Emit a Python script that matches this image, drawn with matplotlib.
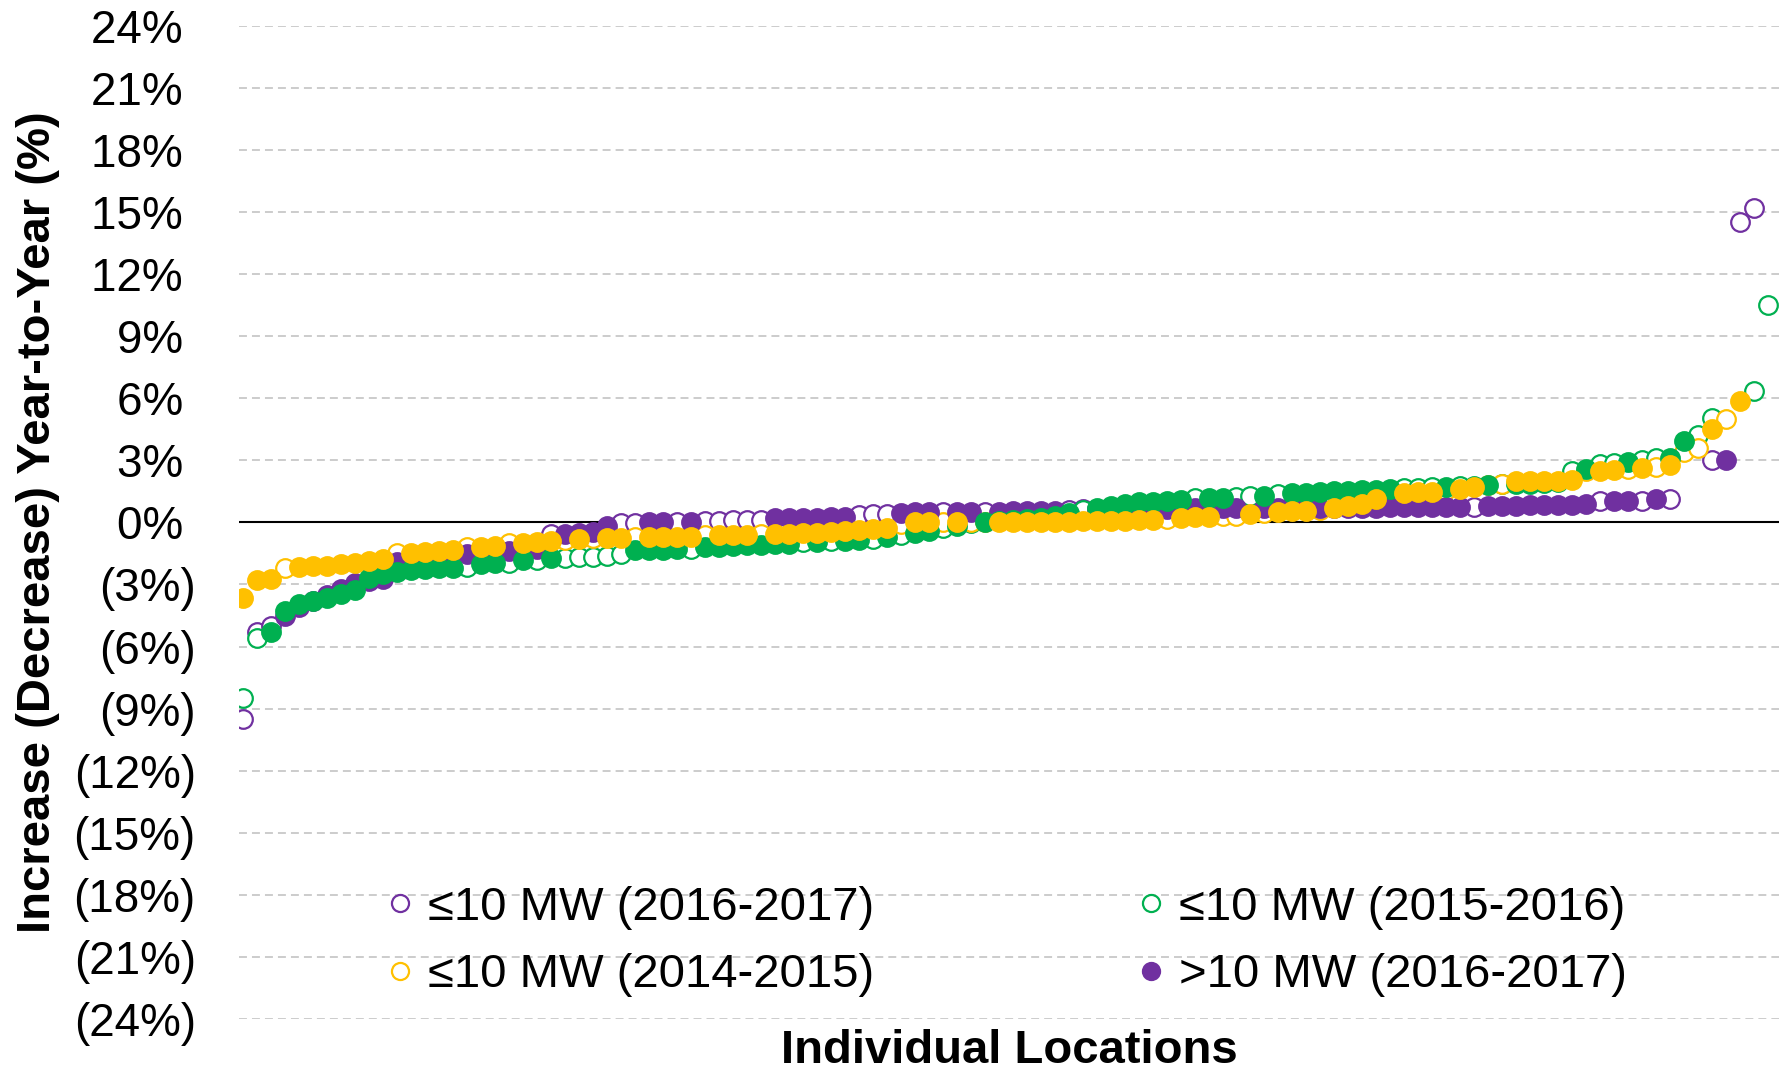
import numpy as np
import matplotlib
matplotlib.use("Agg")
from matplotlib import pyplot as plt
from matplotlib.lines import Line2D

plt.rcParams['font.family'] = ['Liberation Sans', 'DejaVu Sans']

PURPLE = '#7030A0'
GREEN = '#00B050'
YELLOW = '#FFC000'

# year-to-year change (%) per location, sorted; None = no point drawn
p16_vals = [-9.5, -5.3, -5.0, -4.5, -4.1, -3.8, -3.5, -3.2, -2.95, -2.85,
            -2.75, -1.9, -1.8, -1.75, -1.7, -1.6, -1.55, -1.5, -1.45, -1.4,
            -1.35, -1.3, -0.55, -0.55, -0.5, -0.45, -0.15, -0.05, -0.05, 0.0,
            0.0, 0.0, 0.0, 0.05, 0.05, 0.1, 0.1, 0.1, 0.2, 0.2,
            0.2, 0.2, 0.25, 0.25, 0.35, 0.4, 0.4, 0.45, 0.5, 0.5,
            0.5, 0.5, 0.5, 0.5, 0.5, 0.55, 0.55, 0.55, 0.55, 0.6,
            0.65, 0.65, 0.65, 0.65, 0.65, 0.65, 0.65, 0.65, 0.7, 0.7,
            0.7, 0.7, 0.7, 0.7, 0.7, 0.7, 0.7, 0.7, 0.7, 0.7,
            0.7, 0.7, 0.75, 0.75, 0.75, 0.75, 0.75, 0.75, 0.75, 0.8,
            0.8, 0.8, 0.85, 0.85, 0.85, 0.85, 0.9, 1.05, 1.05, 1.05,
            1.05, 1.15, 1.15, None, None, 3.0, 3.0, 14.5, 15.2]
# 1 = >10 MW (filled marker), 0 = <=10 MW (open marker)
p16_big = [0, 0, 0, 1, 1, 1, 1, 1, 1, 1,
           1, 1, 1, 1, 1, 1, 1, 1, 1, 1,
           1, 1, 0, 1, 1, 1, 1, 0, 0, 1,
           1, 0, 1, 0, 0, 0, 0, 0, 1, 1,
           1, 1, 1, 1, 0, 0, 0, 1, 1, 1,
           0, 1, 1, 0, 1, 1, 1, 1, 1, 0,
           0, 1, 1, 1, 1, 1, 1, 0, 1, 1,
           1, 1, 0, 1, 1, 1, 1, 1, 1, 1,
           1, 1, 1, 1, 1, 1, 1, 1, 0, 1,
           1, 1, 1, 1, 1, 1, 1, 0, 1, 1,
           0, 1, 0, 0, 0, 0, 1, 0, 0]

g15_vals = [-8.5, -5.6, -5.3, -4.3, -3.95, -3.8, -3.65, -3.45, -3.25, -2.7,
            -2.5, -2.4, -2.3, -2.25, -2.2, -2.2, -2.15, -2.0, -1.95, -1.95,
            -1.8, -1.8, -1.7, -1.7, -1.65, -1.65, -1.6, -1.55, -1.35, -1.35,
            -1.35, -1.3, -1.3, -1.2, -1.2, -1.15, -1.1, -1.1, -1.05, -1.05,
            -0.95, -0.95, -0.9, -0.9, -0.85, -0.8, -0.7, -0.6, -0.5, -0.4,
            -0.25, -0.15, -0.05, 0.0, 0.05, 0.1, 0.15, 0.2, 0.3, 0.45,
            0.6, 0.7, 0.8, 0.9, 1.0, 1.0, 1.05, 1.1, 1.2, 1.2,
            1.2, 1.25, 1.3, 1.3, 1.35, 1.4, 1.4, 1.45, 1.5, 1.5,
            1.55, 1.55, 1.6, 1.65, 1.65, 1.7, 1.7, 1.75, 1.75, 1.8,
            1.85, 1.85, 1.85, 1.9, 1.95, 2.5, 2.6, 2.8, 2.85, 2.9,
            3.0, 3.1, 3.1, 3.95, 4.2, 5.05, None, None, 6.35, 10.5]
g15_big = [0, 0, 1, 1, 1, 1, 1, 1, 1, 1,
           1, 1, 1, 1, 1, 1, 0, 1, 1, 0,
           1, 0, 1, 0, 0, 0, 0, 0, 1, 1,
           1, 1, 0, 1, 1, 1, 1, 1, 1, 1,
           0, 1, 0, 1, 1, 0, 1, 0, 1, 1,
           0, 1, 0, 1, 1, 1, 1, 1, 1, 1,
           0, 1, 1, 1, 1, 1, 1, 1, 0, 1,
           1, 0, 0, 1, 0, 1, 1, 1, 1, 1,
           1, 1, 1, 0, 0, 0, 1, 0, 1, 1,
           0, 1, 1, 1, 1, 0, 1, 0, 0, 1,
           0, 0, 1, 1, 0, 0, 0, 0, 0, 0]

y14_vals = [-3.65, -2.8, -2.75, -2.2, -2.15, -2.1, -2.1, -2.0, -1.95, -1.85,
            -1.75, -1.5, -1.5, -1.45, -1.4, -1.35, -1.2, -1.2, -1.15, -1.0,
            -1.0, -0.95, -0.9, -0.85, -0.8, -0.75, -0.75, -0.75, -0.7, -0.7,
            -0.7, -0.7, -0.7, -0.6, -0.6, -0.6, -0.6, -0.55, -0.55, -0.55,
            -0.5, -0.5, -0.45, -0.4, -0.35, -0.3, -0.25, -0.1, 0.0, 0.0,
            0.0, 0.0, 0.0, 0.0, 0.0, 0.0, 0.0, 0.0, 0.0, 0.0,
            0.05, 0.05, 0.05, 0.05, 0.1, 0.1, 0.15, 0.2, 0.25, 0.25,
            0.3, 0.3, 0.4, 0.45, 0.5, 0.55, 0.55, 0.6, 0.7, 0.8,
            0.9, 1.15, 1.2, 1.4, 1.45, 1.45, 1.55, 1.6, 1.7, 1.8,
            1.85, 2.0, 2.0, 2.0, 2.0, 2.05, 2.5, 2.5, 2.55, 2.6,
            2.65, 2.7, 2.75, 3.4, 3.6, 4.5, 5.0, 5.85]
y14_big = [1, 1, 1, 0, 1, 1, 1, 1, 1, 1,
           1, 0, 1, 1, 1, 1, 0, 1, 1, 0,
           1, 1, 1, 0, 1, 0, 1, 1, 0, 1,
           1, 1, 1, 0, 1, 1, 1, 0, 1, 1,
           1, 1, 1, 1, 1, 1, 1, 0, 1, 1,
           0, 1, 0, 0, 1, 1, 1, 1, 1, 1,
           1, 1, 1, 1, 1, 1, 0, 1, 1, 1,
           0, 0, 1, 0, 1, 1, 1, 0, 1, 1,
           1, 1, 0, 1, 1, 1, 0, 1, 1, 0,
           0, 1, 1, 1, 1, 1, 0, 1, 1, 0,
           1, 0, 1, 0, 0, 1, 0, 1]

y_ticks = list(range(-24, 25, 3))

series = [  # (values, flags, colour)
    (p16_vals, p16_big, PURPLE),
    (g15_vals, g15_big, GREEN),
    (y14_vals, y14_big, YELLOW),
]

fig = plt.figure(figsize=(17.83, 10.76), dpi=100)
ax = fig.add_axes([0.134, 0.053, 0.864, 0.923])

ms = 13.4
mew = 1.6

# small plants (open) first, then large plants (filled) on top
z = 3
for filled in (False, True):
    for vals, big, col in series:
        v = np.array(vals, dtype=float)
        b = (np.array(big) == 1) == filled
        x = np.arange(len(v))
        ax.plot(x[b], v[b], ls='none', marker='o', ms=ms, mew=mew,
                mfc=col if filled else 'white', mec=col, zorder=z)
        z += 1

ax.axhline(0, color='black', lw=1.5, zorder=2)

ax.set_ylim(-24, 24)
ax.set_xlim(-0.29, 109.8)
ax.set_yticks(y_ticks)
ax.set_yticklabels([f"{t}% " if t >= 0 else f"({-t}%)" for t in y_ticks],
                   fontsize=33)
ax.tick_params(axis='y', length=0, pad=31)
ax.set_xticks([])
for s in ax.spines.values():
    s.set_visible(False)
ax.yaxis.grid(True, color='#BFBFBF', lw=1.1, linestyle=(0, (5.2, 3.3)))
ax.set_axisbelow(True)

ax.set_ylabel('Increase (Decrease) Year-to-Year (%)', fontsize=34,
              fontweight='bold', labelpad=10)
ax.set_xlabel('Individual Locations', fontsize=34, fontweight='bold',
              labelpad=7)

def handle(col, filled):
    return Line2D([], [], ls='none', marker='o', ms=12.3, mew=mew,
                  mfc=col if filled else 'white', mec=col)

handles = [handle(PURPLE, False), handle(YELLOW, False),
           handle(GREEN, False), handle(PURPLE, True)]
labels = ['\u226410 MW (2016-2017)', '\u226410 MW (2014-2015)',
          '\u226410 MW (2015-2016)', '>10 MW (2016-2017)']
fig.legend(handles, labels, loc='center', bbox_to_anchor=(0.565, 0.125),
           ncol=2, frameon=False, fontsize=34, handlelength=0.5,
           handletextpad=0.35, columnspacing=5.6, labelspacing=0.5,
           borderpad=0)

fig.savefig('out.png', dpi=100)
